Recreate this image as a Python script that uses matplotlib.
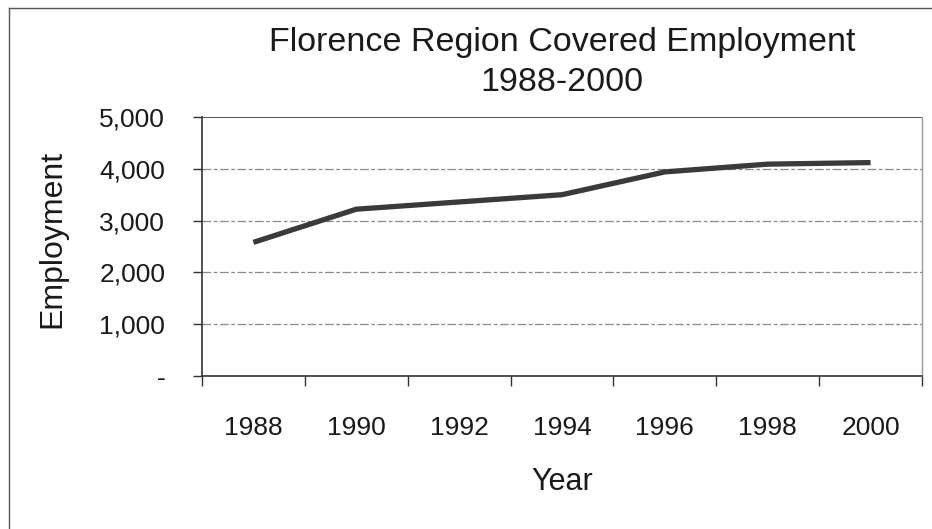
import matplotlib
matplotlib.use('Agg')
import matplotlib.pyplot as plt
from matplotlib.lines import Line2D

# data
years = ['1988', '1990', '1992', '1994', '1996', '1998', '2000']
employment = [2580, 3220, 3360, 3500, 3940, 4090, 4120]
y_ticks = [0, 1000, 2000, 3000, 4000, 5000]
y_tick_labels = ['-', '1,000', '2,000', '3,000', '4,000', '5,000']

plt.rcParams['font.family'] = ['Liberation Sans', 'DejaVu Sans']
text_color = '#1a1a1a'

fig = plt.figure(figsize=(9.32, 5.29), dpi=100)
ax = fig.add_axes([202 / 932, 1 - 376 / 529, 720 / 932, 259 / 529])

x = list(range(len(years)))
ax.plot(x, employment, color='#3a3a3a', lw=3.8, solid_joinstyle='miter', solid_capstyle='butt')

ax.set_xlim(-0.5, len(years) - 0.5)
ax.set_ylim(0, 5000)

# gridlines (scanned look: broken gray lines)
for v in y_ticks[1:-1]:
    ax.axhline(v, color='#8a8a8a', lw=0.9, ls=(0, (7, 2, 3, 2)), zorder=0)
ax.axhline(5000, color='#444444', lw=1.3, zorder=1)

# category axis: tick marks at boundaries, labels at centers
ax.set_xticks(x)
ax.set_xticklabels(years, fontsize=19, color=text_color)
ax.tick_params(axis='x', which='major', length=0, pad=29)
ax.set_xticks([i - 0.5 for i in range(len(years) + 1)], minor=True)
ax.tick_params(axis='x', which='minor', length=7.5, width=1, color='#333333', direction='out')

ax.set_yticks(y_ticks)
ax.set_yticklabels(y_tick_labels, fontsize=19, color=text_color)
ax.tick_params(axis='y', length=6.5, width=1, color='#333333', pad=20)

for side in ['left', 'bottom']:
    ax.spines[side].set_color('#333333')
    ax.spines[side].set_linewidth(1.2)
ax.spines['top'].set_visible(False)
ax.spines['right'].set_color('#9a9a9a')
ax.spines['right'].set_linewidth(1.0)
ax.spines['right'].set_linestyle((0, (2, 1)))

ax.set_xlabel('Year', fontsize=22, color=text_color, labelpad=19)
fig.text(52 / 932, 1 - 239 / 529, 'Employment', rotation=90, fontsize=23,
         color=text_color, ha='center', va='center')

fig.text(562 / 932, 1 - 42 / 529, 'Florence Region Covered Employment', fontsize=24.5,
         color=text_color, ha='center', va='center')
fig.text(562 / 932, 1 - 83 / 529, '1988-2000', fontsize=24.5,
         color=text_color, ha='center', va='center')

# outer chart frame (top and left edges visible in the scan)
fig.add_artist(Line2D([9 / 932, 1], [1 - 8 / 529, 1 - 8 / 529], transform=fig.transFigure,
                      color='#555555', lw=1.0))
fig.add_artist(Line2D([9 / 932, 9 / 932], [0, 1 - 8 / 529], transform=fig.transFigure,
                      color='#555555', lw=1.0))

fig.savefig('out.png', dpi=100)
